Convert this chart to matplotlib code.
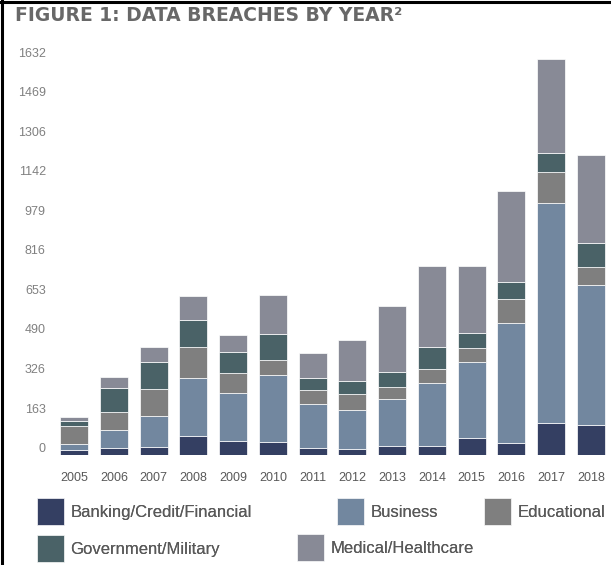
import matplotlib
matplotlib.use('Agg')
import matplotlib.pyplot as plt
import numpy as np
from matplotlib.transforms import ScaledTranslation
from matplotlib.lines import Line2D

years = ['2005', '2006', '2007', '2008', '2009', '2010', '2011',
         '2012', '2013', '2014', '2015', '2016', '2017', '2018']
banking = [18, 27, 31, 77, 56, 52, 27, 22, 34, 35, 70, 48, 132, 121]
business = [27, 73, 128, 237, 198, 275, 180, 161, 194, 260, 312, 497, 908, 577]
educational = [73, 74, 113, 130, 82, 65, 58, 65, 51, 59, 58, 99, 127, 78]
government = [19, 100, 108, 110, 87, 104, 51, 55, 62, 89, 62, 70, 80, 96]
medical = [18, 44, 63, 100, 72, 164, 103, 168, 271, 336, 276, 374, 385, 363]
ytick_vals = [0, 163, 326, 490, 653, 816, 979, 1142, 1306, 1469, 1632]

labels = ['Banking/Credit/Financial', 'Business', 'Educational',
          'Government/Military', 'Medical/Healthcare']
colors = ['#343f62', '#72879f', '#7f7f7f', '#4a6267', '#888a96']
series = [banking, business, educational, government, medical]

W, H = 611, 565
fig = plt.figure(figsize=(W / 100, H / 100), dpi=100)
fig.patch.set_facecolor('white')
ax = fig.add_axes([55 / W, 1 - 454.5 / H, (610 - 55) / W, (454.5 - 59.3) / H])

x = np.arange(len(years))
bottom = np.zeros(len(years))
handles = []
for vals, color, label in zip(series, colors, labels):
    vals = np.array(vals, dtype=float)
    bc = ax.bar(x, vals, 0.7, bottom=bottom, color=color, edgecolor='white',
                linewidth=0.5, label=label)
    handles.append(bc)
    bottom += vals

ax.set_xlim(-0.48, 13.48)
ax.set_ylim(0, 1632)
ax.set_xticks(x)
ax.set_xticklabels(years, family='Liberation Sans')
ax.set_yticks(ytick_vals)
ax.set_yticklabels([str(v) for v in ytick_vals], family='Liberation Sans')
for s in ax.spines.values():
    s.set_visible(False)
ax.tick_params(length=0)
ax.tick_params(axis='y', pad=6.7, labelsize=9, labelcolor='#808080')
ax.tick_params(axis='x', pad=12.5, labelsize=9, labelcolor='#595959')
offset = ScaledTranslation(0, 0.07, fig.dpi_scale_trans)
for lab in ax.get_yticklabels():
    lab.set_transform(lab.get_transform() + offset)

# Title
fig.text(15 / W, 1 - 21 / H, 'FIGURE 1: DATA BREACHES BY YEAR\u00b2',
         fontsize=13.5, fontweight='bold', family='DejaVu Sans',
         color='#686868', va='baseline', ha='left')

# Legend (one small legend per entry to match the layout)
leg_pos = [(37, 498), (337, 498), (484, 498), (37, 535), (297, 534)]
fs = 12
for h, lab, (px, py) in zip(handles, labels, leg_pos):
    lg = fig.legend([h], [lab], loc='upper left',
                    bbox_to_anchor=(px / W, 1 - py / H),
                    bbox_transform=fig.transFigure, frameon=False,
                    prop={'family': 'Liberation Sans', 'size': fs},
                    handlelength=1.6, handleheight=2.1, handletextpad=0.4,
                    borderpad=0, borderaxespad=0)
    for t in lg.get_texts():
        t.set_color('#595959')
    fig.add_artist(lg)

# Border lines (top and left)
fig.add_artist(Line2D([0, 1], [1 - 1.5 / H] * 2, transform=fig.transFigure,
                      color='black', lw=2.2))
fig.add_artist(Line2D([1.5 / W] * 2, [0, 1], transform=fig.transFigure,
                      color='black', lw=2.2))

fig.savefig('out.png', dpi=100, facecolor='white')
